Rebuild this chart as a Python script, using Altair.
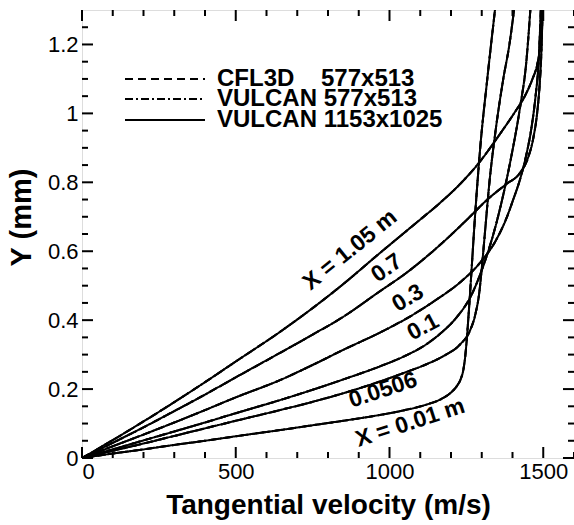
import altair as alt
import pandas as pd

# ---------------- data ----------------
stations = ["0.01", "0.0506", "0.1", "0.3", "0.7", "1.05"]

v_001 = [0, 100, 200, 300, 400, 500, 644, 750, 850, 969, 1050, 1120, 1170, 1200, 1220, 1232,
         1240, 1245, 1250, 1256, 1265, 1278, 1295, 1318, 1343]
y_001 = [0, 0.013, 0.025, 0.038, 0.050, 0.063, 0.081, 0.095, 0.108, 0.125, 0.139, 0.155, 0.172,
         0.190, 0.210, 0.230, 0.255, 0.285, 0.33, 0.40, 0.52, 0.70, 0.90, 1.10, 1.30]

v_0506 = [0, 100, 200, 300, 400, 500, 644, 750, 850, 969, 1050, 1120, 1180, 1230, 1262, 1280,
          1292, 1300, 1310, 1325, 1345, 1370, 1390, 1405]
y_0506 = [0, 0.021, 0.042, 0.064, 0.086, 0.108, 0.139, 0.163, 0.188, 0.222, 0.248, 0.272, 0.298,
          0.33, 0.37, 0.42, 0.48, 0.55, 0.65, 0.80, 0.95, 1.10, 1.20, 1.30]

v_01 = [0, 100, 200, 300, 400, 500, 644, 750, 850, 969, 1050, 1120, 1164, 1220, 1262, 1300,
        1350, 1395, 1425, 1445, 1458]
y_01 = [0, 0.025, 0.051, 0.077, 0.103, 0.130, 0.168, 0.198, 0.228, 0.266, 0.296, 0.330, 0.360,
        0.410, 0.465, 0.545, 0.690, 0.870, 1.02, 1.15, 1.30]

v_03 = [0, 100, 200, 300, 400, 500, 644, 750, 850, 969, 1050, 1150, 1230, 1294, 1345, 1380,
        1402, 1424, 1445, 1462, 1475, 1485, 1492]
y_03 = [0, 0.034, 0.068, 0.103, 0.139, 0.176, 0.226, 0.270, 0.314, 0.364, 0.402, 0.458, 0.510,
        0.566, 0.630, 0.695, 0.749, 0.807, 0.88, 0.96, 1.05, 1.15, 1.30]

v_07 = [0, 100, 200, 300, 400, 500, 644, 750, 850, 969, 1050, 1164, 1250, 1317, 1380, 1424,
        1450, 1468, 1480, 1488, 1494, 1498]
y_07 = [0, 0.044, 0.089, 0.136, 0.184, 0.234, 0.305, 0.358, 0.410, 0.484, 0.534, 0.618, 0.690,
        0.749, 0.795, 0.827, 0.87, 0.93, 1.0, 1.08, 1.18, 1.30]

v_105 = [0, 100, 200, 300, 400, 500, 644, 750, 850, 969, 1050, 1100, 1164, 1235, 1294, 1359,
         1405, 1440, 1465, 1480, 1488, 1493, 1496]
y_105 = [0, 0.052, 0.106, 0.162, 0.220, 0.280, 0.366, 0.435, 0.505, 0.595, 0.655, 0.692, 0.740,
         0.800, 0.860, 0.940, 1.000, 1.050, 1.100, 1.140, 1.180, 1.230, 1.300]

NB = "\u00a0"
solvers = ["CFL3D" + NB * 4 + "577x513", "VULCAN" + NB + "577x513", "VULCAN" + NB + "1153x1025"]
solver_dash = [[8, 5], [8, 3, 2, 3], [1, 0]]

label_text = ["X = 1.05 m", "0.7", "0.3", "0.1", "0.0506", "X = 0.01 m"]
label_v = [872, 991, 1060, 1109, 979, 1067]
label_y = [0.604, 0.551, 0.464, 0.380, 0.197, 0.102]
label_angle = [321, 325, 329, 332, 342, 342]

x_major = [0, 500, 1000, 1500]
x_minor = [100, 200, 300, 400, 600, 700, 800, 900, 1100, 1200, 1300, 1400, 1600]
y_major = [0, 0.2, 0.4, 0.6, 0.8, 1.0, 1.2]
y_minor = [0.05, 0.1, 0.15, 0.25, 0.3, 0.35, 0.45, 0.5, 0.55, 0.65, 0.7, 0.75,
           0.85, 0.9, 0.95, 1.05, 1.1, 1.15, 1.25]

# ---------------- build tables ----------------
curves = {"0.01": (v_001, y_001), "0.0506": (v_0506, y_0506), "0.1": (v_01, y_01),
          "0.3": (v_03, y_03), "0.7": (v_07, y_07), "1.05": (v_105, y_105)}
rows = []
for s in solvers:
    for st in stations:
        vv, yy = curves[st]
        for i, (a, b) in enumerate(zip(vv, yy)):
            rows.append({"solver": s, "station": st, "i": i, "v": a, "y": b})
df = pd.DataFrame(rows)

W, H = 492, 448
FONT = "Liberation Sans"
xs = alt.Scale(domain=[0, 1600], nice=False, zero=False)
ys = alt.Scale(domain=[0, 1.3], nice=False, zero=False)

lines = alt.Chart(df).mark_line(color="black", strokeWidth=2, clip=True,
                                interpolate="monotone").encode(
    x=alt.X("v:Q", scale=xs,
            axis=alt.Axis(values=x_major, format="d", ticks=False, domain=False, grid=False,
                          labelFont=FONT, labelFontSize=22, labelColor="black",
                          labelPadding=3, title="Tangential velocity (m/s)",
                          titleFont=FONT, titleFontSize=28, titleFontWeight="bold",
                          titleColor="black", titleX=W / 2, titleY=55,
                          titleBaseline="alphabetic")),
    y=alt.Y("y:Q", scale=ys,
            axis=alt.Axis(values=y_major, format="~g", ticks=False, domain=False, grid=False,
                          labelFont=FONT, labelFontSize=22, labelColor="black",
                          labelPadding=4, title="Y (mm)", titleFont=FONT,
                          titleFontSize=29, titleFontWeight="bold", titleColor="black",
                          titleX=-61, titleY=207, titleAngle=270, titleAlign="center",
                          titleBaseline="middle")),
    detail=["solver:N", "station:N"],
    strokeDash=alt.StrokeDash("solver:N", scale=alt.Scale(domain=solvers, range=solver_dash),
                              legend=None),
    order="i:Q",
)

lab_df = pd.DataFrame({"t": label_text, "v": label_v, "y": label_y, "a": label_angle})
labels = alt.Chart(lab_df).mark_text(font=FONT, fontSize=23, fontWeight="bold",
                                     color="black").encode(
    x=alt.X("v:Q", scale=xs), y=alt.Y("y:Q", scale=ys), text="t:N",
    angle=alt.Angle("a:Q", scale=None))

# ticks (inward, on all four sides)
def xticks(vals, L):
    d = pd.DataFrame({"v": vals})
    b = alt.Chart(d).mark_rule(color="black", strokeWidth=2).encode(
        x=alt.X("v:Q", scale=xs), y=alt.value(H), y2=alt.value(H - L))
    t = alt.Chart(d).mark_rule(color="black", strokeWidth=2).encode(
        x=alt.X("v:Q", scale=xs), y=alt.value(0), y2=alt.value(L))
    return b + t

def yticks(vals, L):
    d = pd.DataFrame({"y": vals})
    l = alt.Chart(d).mark_rule(color="black", strokeWidth=2).encode(
        y=alt.Y("y:Q", scale=ys), x=alt.value(0), x2=alt.value(L))
    r = alt.Chart(d).mark_rule(color="black", strokeWidth=2).encode(
        y=alt.Y("y:Q", scale=ys), x=alt.value(W), x2=alt.value(W - L))
    return l + r

ticks = xticks(x_major, 11) + xticks(x_minor, 6) + yticks(y_major, 11) + yticks(y_minor, 6)

# legend
leg_df = pd.DataFrame({"solver": solvers, "ypix": [69, 89, 110]})
leg_lines = alt.Chart(leg_df).mark_rule(color="black", strokeWidth=2).encode(
    x=alt.value(43), x2=alt.value(123), y=alt.Y("ypix:Q", scale=None),
    strokeDash=alt.StrokeDash("solver:N", scale=alt.Scale(domain=solvers, range=solver_dash),
                              legend=None))
leg_text = alt.Chart(leg_df).mark_text(font=FONT, fontSize=24, fontWeight="bold",
                                       color="black", align="left",
                                       baseline="middle").encode(
    x=alt.value(135), y=alt.Y("ypix:Q", scale=None),
    text=alt.Text("solver:N"))

chart = alt.layer(lines, labels, ticks, leg_lines, leg_text).properties(
    width=W, height=H,
    autosize=alt.AutoSizeParams(type="none"),
    padding={"left": 82, "top": 10, "right": 0, "bottom": 67},
).configure_view(stroke="black", strokeWidth=2).configure(background="white")

chart.save("out.html", embed_options={"renderer": "svg", "actions": False})
